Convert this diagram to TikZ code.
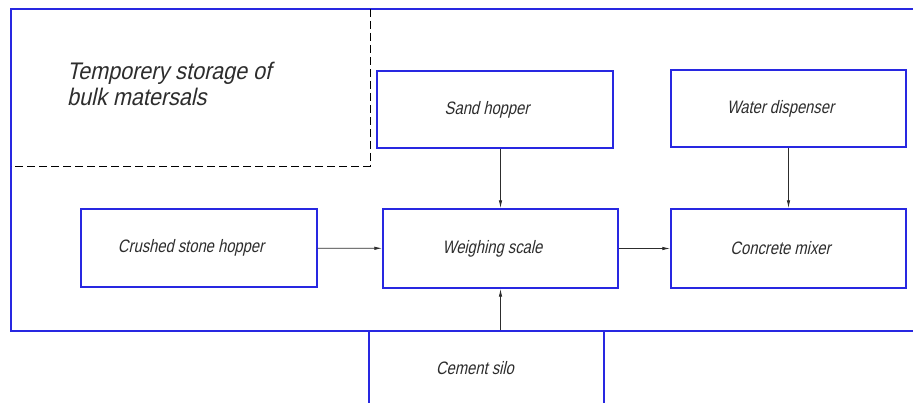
\documentclass[tikz,border=0pt]{standalone}
\usepackage{fontspec}
\setmainfont{Liberation Sans}
\newfontfamily\draftfont[FakeSlant=0.22,FakeStretch=0.82]{Liberation Sans}
\newfontfamily\draftwide[FakeSlant=0.22,FakeStretch=0.9]{Liberation Sans}
\usetikzlibrary{arrows.meta}
\definecolor{frameblue}{RGB}{40,40,225}
\definecolor{inkgray}{RGB}{45,45,45}
% nudge a caption a few points left of its box centre
\newcommand{\leftish}[1]{#1\hspace*{16pt}}
\tikzset{
  unitbox/.style={draw=frameblue, line width=1.4pt, rectangle, inner sep=0pt,
    font=\draftfont\fontsize{18}{20}\selectfont, text=inkgray},
  flow/.style={draw=inkgray, line width=0.8pt,
    -{Latex[length=8pt,width=3.4pt]}},
  hatchline/.style={draw=black, line width=0.8pt, dash pattern=on 8pt off 4pt},
}
\begin{document}
\begin{tikzpicture}[x=1pt,y=-1pt]
\clip (0,0) rectangle (913,403);
\fill[white] (0,0) rectangle (913,403);

% plant boundary, open to the right
\draw[frameblue, line width=1.4pt] (930,9) -- (11,9) -- (11,331) -- (930,331);

% temporary storage area
\coordinate (st-top) at (370,9);
\coordinate (st-corner) at (370,166);
\coordinate (st-left) at (11,166);
\draw[hatchline] (st-top) -- (st-corner) -- (st-left);
\node[anchor=north west, align=left, inner sep=0pt, text=inkgray,
      font=\draftwide\fontsize{24}{26}\selectfont] (storage) at (67,62)
  {Temporery storage of\\bulk matersals};

% equipment
\node[unitbox, minimum width=236pt, minimum height=77pt] (sand) at (495,109.5) {\leftish{Sand hopper}};
\node[unitbox, minimum width=235pt, minimum height=77pt] (water) at (788.5,108.5) {\leftish{Water dispenser}};
\node[unitbox, minimum width=236pt, minimum height=78pt] (stone) at (199,248) {\leftish{Crushed stone hopper}};
\node[unitbox, minimum width=235pt, minimum height=79pt] (scale) at (500.5,248.5) {\leftish{Weighing scale}};
\node[unitbox, minimum width=235pt, minimum height=79pt] (mixer) at (788.5,248.5) {\leftish{Concrete mixer}};

% cement silo, running off the sheet below
\node[unitbox, minimum width=235pt, minimum height=100pt] (silo) at (486.5,381) {};
\node[font=\draftfont\fontsize{18}{20}\selectfont, text=inkgray] (silotext) at (475,368) {Cement silo};

% material flows
\draw[flow] (sand.south -| scale.north) -- (scale.north);
\draw[flow] (water) -- (mixer);
\draw[flow] (stone) -- (scale);
\draw[flow] (scale) -- (mixer);
\draw[flow] (silo.north -| scale.south) -- (scale.south);
\end{tikzpicture}
\end{document}
